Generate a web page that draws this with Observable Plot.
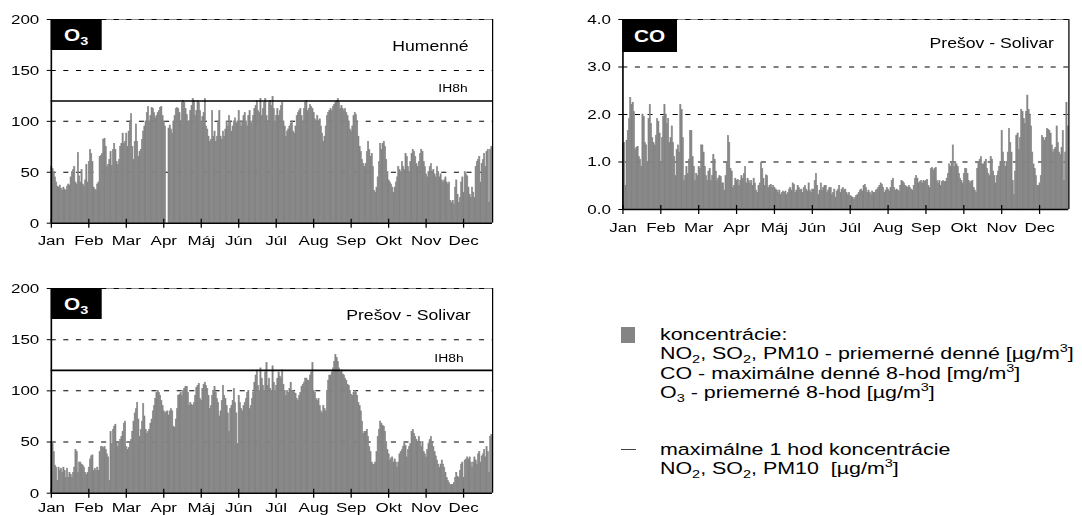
<!DOCTYPE html>
<html lang="sk">
<head>
<meta charset="utf-8">
<script src="https://cdn.jsdelivr.net/npm/d3@7"></script>
<script src="https://cdn.jsdelivr.net/npm/@observablehq/plot@0.6"></script>
<style>
html,body{margin:0;padding:0;background:#fff;overflow:hidden;}
#root{position:relative;width:1082px;height:515px;overflow:hidden;font-family:"Liberation Sans",Arial,sans-serif;}
.wrap{position:absolute;transform-origin:0 0;}
.wrap svg{display:block;max-width:none;}
</style>
</head>
<body>
<div id="root"></div>
<script>
// ---------- data ----------
const months = ["Jan","Feb","Mar","Apr","Máj","Jún","Júl","Aug","Sep","Okt","Nov","Dec"];
const monthTicks = [0,31,62,93,124,155,186,217,248,279,310,341];
const daysInYear = 365;

const o3Ticks = [0,50,100,150,200];
const coTicks = [0,1,2,3,4];
const ih8hLimit = 120;
const ih8hLabel = "IH8h";

// O3, Humenné - priemerné 8-hod [µg/m3], daily
const o3Humenne = [
55,53,50,45,40,36,35,37,34,32, 35,33,32,36,38,37,45,50,52,55,
40,38,69,46,40,52,38,36,42,57, 40,60,72,68,60,35,33,32,38,40,
65,66,68,82,83,75,55,57,62,70, 56,72,78,72,60,57,62,75,78,88,
78,80,88,75,90,100,107,75,62,80, 97,80,65,70,72,82,90,95,100,108,
114,100,105,113,112,108,103,105,108,110, 113,114,105,100,95,null,null,93,96,92,
88,100,105,112,113,112,108,100,118,120, 118,112,106,100,100,110,115,122,120,105,
110,120,118,110,100,104,108,122,95,92, 85,80,82,110,85,90,80,85,100,110,
85,82,90,85,92,100,95,105,100,90, 95,100,103,98,100,110,100,95,100,105,
108,100,95,105,110,100,98,105,112,115, 120,110,108,122,105,112,118,122,105,100,
118,120,115,124,112,100,105,112,105,110, 115,118,100,95,85,90,92,95,98,100,
90,88,95,105,108,110,112,105,100,112, 118,120,110,112,116,114,112,108,102,100,
105,100,102,95,88,80,85,95,105,108, 110,112,110,114,116,118,120,122,118,112,
115,112,110,112,108,105,100,92,90,95, 105,108,106,100,85,75,70,62,58,55,
58,70,80,72,65,68,55,32,30,35, 45,60,78,72,78,80,75,62,50,42,
40,38,35,30,35,40,45,55,52,50, 60,55,52,68,65,55,50,60,68,72,
70,65,58,55,60,68,72,70,60,55, 48,45,50,55,58,50,52,48,45,55,
50,45,48,42,40,42,45,40,38,40, 22,20,22,18,35,42,28,20,25,40,
45,30,50,48,46,35,28,25,35,30, 25,55,60,62,65,40,58,62,68,55,
70,72,20,72,75
];

// CO, Prešov - Solivar - maximálne denné 8-hod [mg/m3], daily
const coPresovSolivar = [
1.38,1.4,0.5,1.45,1.65,1.9,2.35,2.2,2.25,2.05, 1.25,1.3,1.32,1.1,1.05,0.9,2.0,1.95,1.4,1.35,
1.0,1.9,2.2,1.8,1.5,1.4,1.35,1.55,1.9,1.85, 1.6,1.0,1.5,1.95,2.2,2.0,1.8,1.9,1.4,1.5,
1.75,1.4,1.1,0.7,1.25,1.35,1.2,2.2,2.1,1.5, 0.6,0.7,0.9,0.75,1.05,1.65,1.65,1.1,0.9,0.6,
0.75,0.7,0.9,0.85,1.35,1.35,1.2,0.9,0.7,0.6, 0.8,0.85,0.6,0.7,1.15,1.05,0.8,0.6,0.65,0.7,
0.68,0.55,0.55,0.4,0.7,1.0,1.55,1.4,0.85,0.8, 0.45,0.5,0.65,0.6,0.62,0.5,0.6,0.7,0.65,0.75,
0.9,0.55,0.65,0.6,0.55,0.6,0.5,0.65,0.55,0.4, 0.35,0.5,0.55,0.98,0.85,0.65,0.5,0.72,0.7,0.45,
0.5,0.52,0.45,0.5,0.45,0.42,0.4,0.35,0.4,0.3, 0.35,0.38,0.35,0.38,0.3,0.35,0.42,0.45,0.4,0.55,
0.52,0.35,0.4,0.5,0.45,0.4,0.42,0.35,0.45,0.5, 0.42,0.38,0.55,0.4,0.35,0.42,0.42,0.6,0.75,0.5,
0.3,0.4,0.55,0.4,0.45,0.5,0.5,0.35,0.4,0.45, 0.45,0.3,0.35,0.42,0.25,0.38,0.42,0.5,0.35,0.42,
0.45,0.4,0.42,0.35,0.3,0.35,0.28,0.27,0.25,0.2, 0.25,0.28,0.3,0.35,0.4,0.42,0.38,0.5,0.52,0.45,
0.35,0.4,0.35,0.3,0.38,0.35,0.35,0.4,0.42,0.45, 0.5,0.55,0.52,0.45,0.35,0.4,0.45,0.42,0.38,0.45,
0.6,0.65,0.45,0.4,0.42,0.4,0.38,0.5,0.6,0.58, 0.55,0.5,0.48,0.45,0.5,0.45,0.42,0.4,0.5,0.65,
0.7,0.65,0.55,0.58,0.6,0.55,0.6,0.58,0.6,0.62, 0.5,0.45,0.85,0.88,0.82,0.85,0.88,0.6,0.55,0.6,
0.5,0.58,0.6,0.58,0.58,0.65,0.75,0.95,0.9,1.0, 1.35,0.9,1.0,0.95,0.9,0.75,0.65,0.6,0.55,0.75,
0.85,0.85,0.75,0.6,0.55,0.58,0.6,0.45,0.4,0.35, 0.85,1.0,1.05,1.1,0.95,0.95,1.0,1.05,0.85,0.75,
0.7,1.1,1.05,0.8,0.7,0.55,0.7,0.8,0.9,1.0, 1.65,1.2,1.0,0.9,1.0,1.2,1.7,1.4,1.2,0.6,
0.3,0.8,1.55,1.6,1.25,1.5,2.1,2.05,1.9,1.8, 2.05,2.4,2.1,2.0,1.75,1.2,0.95,0.85,0.7,0.5,
0.5,0.55,0.7,1.55,1.5,1.45,1.5,1.7,1.68,1.65, 1.6,1.35,1.2,1.25,1.3,1.75,1.4,1.2,1.15,1.3,
1.65,0.6,1.2,2.25,1.75
];

// O3, Prešov - Solivar - priemerné 8-hod [µg/m3], daily
const o3PresovSolivar = [
50,48,40,27,25,12,25,22,24,20, 25,22,15,24,15,20,18,15,20,25,
42,40,20,30,30,28,27,25,20,18, 20,25,33,36,37,22,24,22,25,22,
40,45,45,44,45,42,38,35,12,60, 48,62,65,67,48,45,50,52,55,60,
68,70,45,42,44,48,52,60,70,78, 82,88,72,55,62,70,87,75,62,58,
60,62,68,72,80,85,92,98,100,98, 95,90,85,80,78,79,80,76,80,82,
80,65,64,72,82,95,96,98,95,100, 102,104,104,98,85,88,86,85,88,95,
103,105,107,92,90,102,106,108,105,102, 95,82,85,95,100,104,98,92,88,75,
80,90,105,95,92,85,78,60,82,85, 90,102,88,78,48,95,88,82,80,85,
88,92,98,100,82,85,92,98,108,115, 120,105,100,122,112,105,100,118,127,105,
112,102,100,124,108,100,105,112,118,114, 112,120,106,100,95,100,98,102,108,100,
100,98,97,92,90,95,98,104,106,108, 112,112,110,110,115,118,127,100,98,92,
90,92,85,80,78,85,82,80,100,110, 115,115,118,122,128,135,132,128,122,118,
120,116,115,112,110,106,105,100,96,95, 98,100,98,95,88,85,80,70,58,60,
60,62,55,45,40,30,28,28,30,40, 55,62,70,68,66,65,60,50,42,38,
32,34,35,30,33,30,25,30,38,40, 42,45,48,46,35,42,45,48,60,62,
58,55,52,50,55,50,45,50,40,38, 35,42,48,52,55,50,45,40,36,32,
28,25,28,32,28,25,20,15,12,10, 8,8,8,10,15,20,16,15,22,28,
30,15,32,33,35,33,35,30,25,30, 35,32,28,38,40,30,36,38,42,35,
45,40,20,55,57
];

// ---------- drawing ----------
const S = 1.26;               // the reference is stretched horizontally
const u = v => v / S;
const root = document.getElementById("root");
const FONT = '"Liberation Sans", Arial, sans-serif';
const barFill = "#848484";

function addRich(sel, parts, size, subSize) {
  // parts: [text, kind] kind: null | "sub" | "sup"
  let shift = 0;
  parts.forEach(([t, kind]) => {
    const target = kind === "sub" ? 4 : kind === "sup" ? -7 : 0;
    sel.append("tspan").text(t).attr("dy", target - shift)
      .attr("font-size", kind ? subSize : size);
    shift = target;
  });
}

function panel(cfg) {
  const W = u(cfg.width);
  const data = cfg.values.map((v, i) => ({day: i, value: v})).filter(d => d.value != null);
  const yMax = cfg.yTicks[cfg.yTicks.length - 1];
  const marks = [
    Plot.ruleY([yMax], {stroke: "#8a8a8a", strokeWidth: 1}),
    Plot.ruleY(cfg.yTicks.filter(t => t > 0), {stroke: "#000", strokeWidth: 1, strokeDasharray: "4,6"}),
    Plot.rectY(data, {x1: "day", x2: d => d.day + 1, y: "value", fill: barFill, stroke: barFill, strokeWidth: 0.45}),
    Plot.ruleX([0], {stroke: "#000", strokeWidth: 1.3}),
    Plot.ruleX([daysInYear], {stroke: "#000", strokeWidth: 1}),
    Plot.ruleY([0], {stroke: "#000", strokeWidth: 1.6}),
    Plot.ruleX(monthTicks, {x: d => d, y1: () => 0, y2: () => 0, insetTop: -4, insetBottom: -5, stroke: "#000", strokeWidth: 1}),
    Plot.axisY({ticks: cfg.yTicks, tickSize: u(4), tickPadding: u(8), tickFormat: cfg.yFormat, label: null}),
    Plot.axisX({ticks: monthTicks, tickSize: 0, tickPadding: cfg.xPad, tickFormat: d => months[monthTicks.indexOf(d)], label: null})
  ];
  if (cfg.threshold != null) {
    marks.push(Plot.ruleY([cfg.threshold], {stroke: "#000", strokeWidth: 1.6}));
    marks.push(Plot.text([cfg.thresholdLabel], {frameAnchor: "right", y: () => cfg.threshold, text: d => d,
      textAnchor: "end", lineAnchor: "middle", dx: -u(cfg.thrDx), dy: -cfg.thrDy, fontSize: 11}));
  }
  marks.push(Plot.text([cfg.station], {frameAnchor: "top-right", text: d => d, textAnchor: "end",
    lineAnchor: "middle", dx: -u(cfg.stDx), dy: cfg.stDy, fontSize: 14}));

  const chart = Plot.plot({
    width: W, height: cfg.height,
    marginLeft: u(cfg.ml), marginRight: u(cfg.mr), marginTop: cfg.mt, marginBottom: cfg.mb,
    x: {domain: [0, daysInYear]},
    y: {domain: [0, yMax]},
    style: {fontFamily: FONT, fontSize: "13.5px", background: "transparent", color: "#000", overflow: "visible"},
    marks
  });

  // black label box with the pollutant name
  const svg = d3.select(chart);
  const g = svg.append("g");
  const bx = u(cfg.ml), by = cfg.mt, bw = u(cfg.boxW), bh = cfg.boxH;
  g.append("rect").attr("x", bx).attr("y", by).attr("width", bw).attr("height", bh).attr("fill", "#000");
  const t = g.append("text").attr("x", bx + bw / 2).attr("y", by + cfg.boxBase)
    .attr("text-anchor", "middle").attr("fill", "#fff").attr("font-weight", "bold")
    .attr("font-family", FONT);
  addRich(t, cfg.tag, 16.5, 11.5);

  const div = document.createElement("div");
  div.className = "wrap";
  div.style.left = cfg.left + "px";
  div.style.top = cfg.top + "px";
  div.style.width = W + "px";
  div.style.transform = `scaleX(${S})`;
  div.appendChild(chart);
  root.appendChild(div);
}

panel({values: o3Humenne, yTicks: o3Ticks, yFormat: d3.format("d"), threshold: ih8hLimit, thresholdLabel: ih8hLabel,
  tag: [["O", null], ["3", "sub"]], station: "Humenné",
  left: 0, top: 0, width: 505, height: 250, ml: 50.7, mr: 13, mt: 19, mb: 27.3, xPad: 12.5,
  boxW: 51, boxH: 31, boxBase: 22, stDx: 24, stDy: 27, thrDx: 25, thrDy: 13});

panel({values: coPresovSolivar, yTicks: coTicks, yFormat: d3.format(".1f"), threshold: null,
  tag: [["CO", null]], station: "Prešov - Solivar",
  left: 560, top: 0, width: 522, height: 237, ml: 62.3, mr: 13.7, mt: 19, mb: 28, xPad: 12.5,
  boxW: 54.7, boxH: 33, boxBase: 22.7, stDx: 15, stDy: 24});

panel({values: o3PresovSolivar, yTicks: o3Ticks, yFormat: d3.format("d"), threshold: ih8hLimit, thresholdLabel: ih8hLabel,
  tag: [["O", null], ["3", "sub"]], station: "Prešov - Solivar",
  left: 0, top: 269, width: 505, height: 246, ml: 50.7, mr: 13, mt: 19, mb: 22.3, xPad: 9.5,
  boxW: 51, boxH: 31, boxBase: 22, stDx: 22, stDy: 27, thrDx: 29, thrDy: 12});

// ---------- legend ----------
(function legend() {
  const L = 600, T = 300, Wd = 482, Hd = 215;
  const div = document.createElement("div");
  div.className = "wrap";
  div.style.left = L + "px"; div.style.top = T + "px";
  div.style.width = u(Wd) + "px";
  div.style.transform = `scaleX(${S})`;
  const svg = d3.select(div).append("svg").attr("width", u(Wd)).attr("height", Hd)
    .style("font-family", FONT).attr("xml:space", "preserve");
  svg.append("rect").attr("x", u(21)).attr("y", 27).attr("width", u(14)).attr("height", 16).attr("fill", barFill);
  svg.append("line").attr("x1", u(21)).attr("x2", u(36)).attr("y1", 149.5).attr("y2", 149.5)
    .attr("stroke", "#444").attr("stroke-width", 1);
  const lines = [
    [40.5, [["koncentrácie:", null]]],
    [59.5, [["NO", null], ["2", "sub"], [", SO", null], ["2", "sub"], [", PM10 - priemerné denné [µg/m", null], ["3", "sup"], ["]", null]]],
    [79, [["CO - maximálne denné 8-hod [mg/m", null], ["3", "sup"], ["]", null]]],
    [98, [["O", null], ["3", "sub"], [" - priemerné 8-hod [µg/m", null], ["3", "sup"], ["]", null]]],
    [155, [["maximálne 1 hod koncentrácie", null]]],
    [174.5, [["NO", null], ["2", "sub"], [", SO", null], ["2", "sub"], [", PM10\u00a0 [µg/m", null], ["3", "sup"], ["]", null]]]
  ];
  lines.forEach(([y, parts]) => {
    const t = svg.append("text").attr("x", u(60)).attr("y", y).attr("fill", "#000");
    addRich(t, parts, 17, 11.5);
  });
  root.appendChild(div);
})();
</script>
</body>
</html>
